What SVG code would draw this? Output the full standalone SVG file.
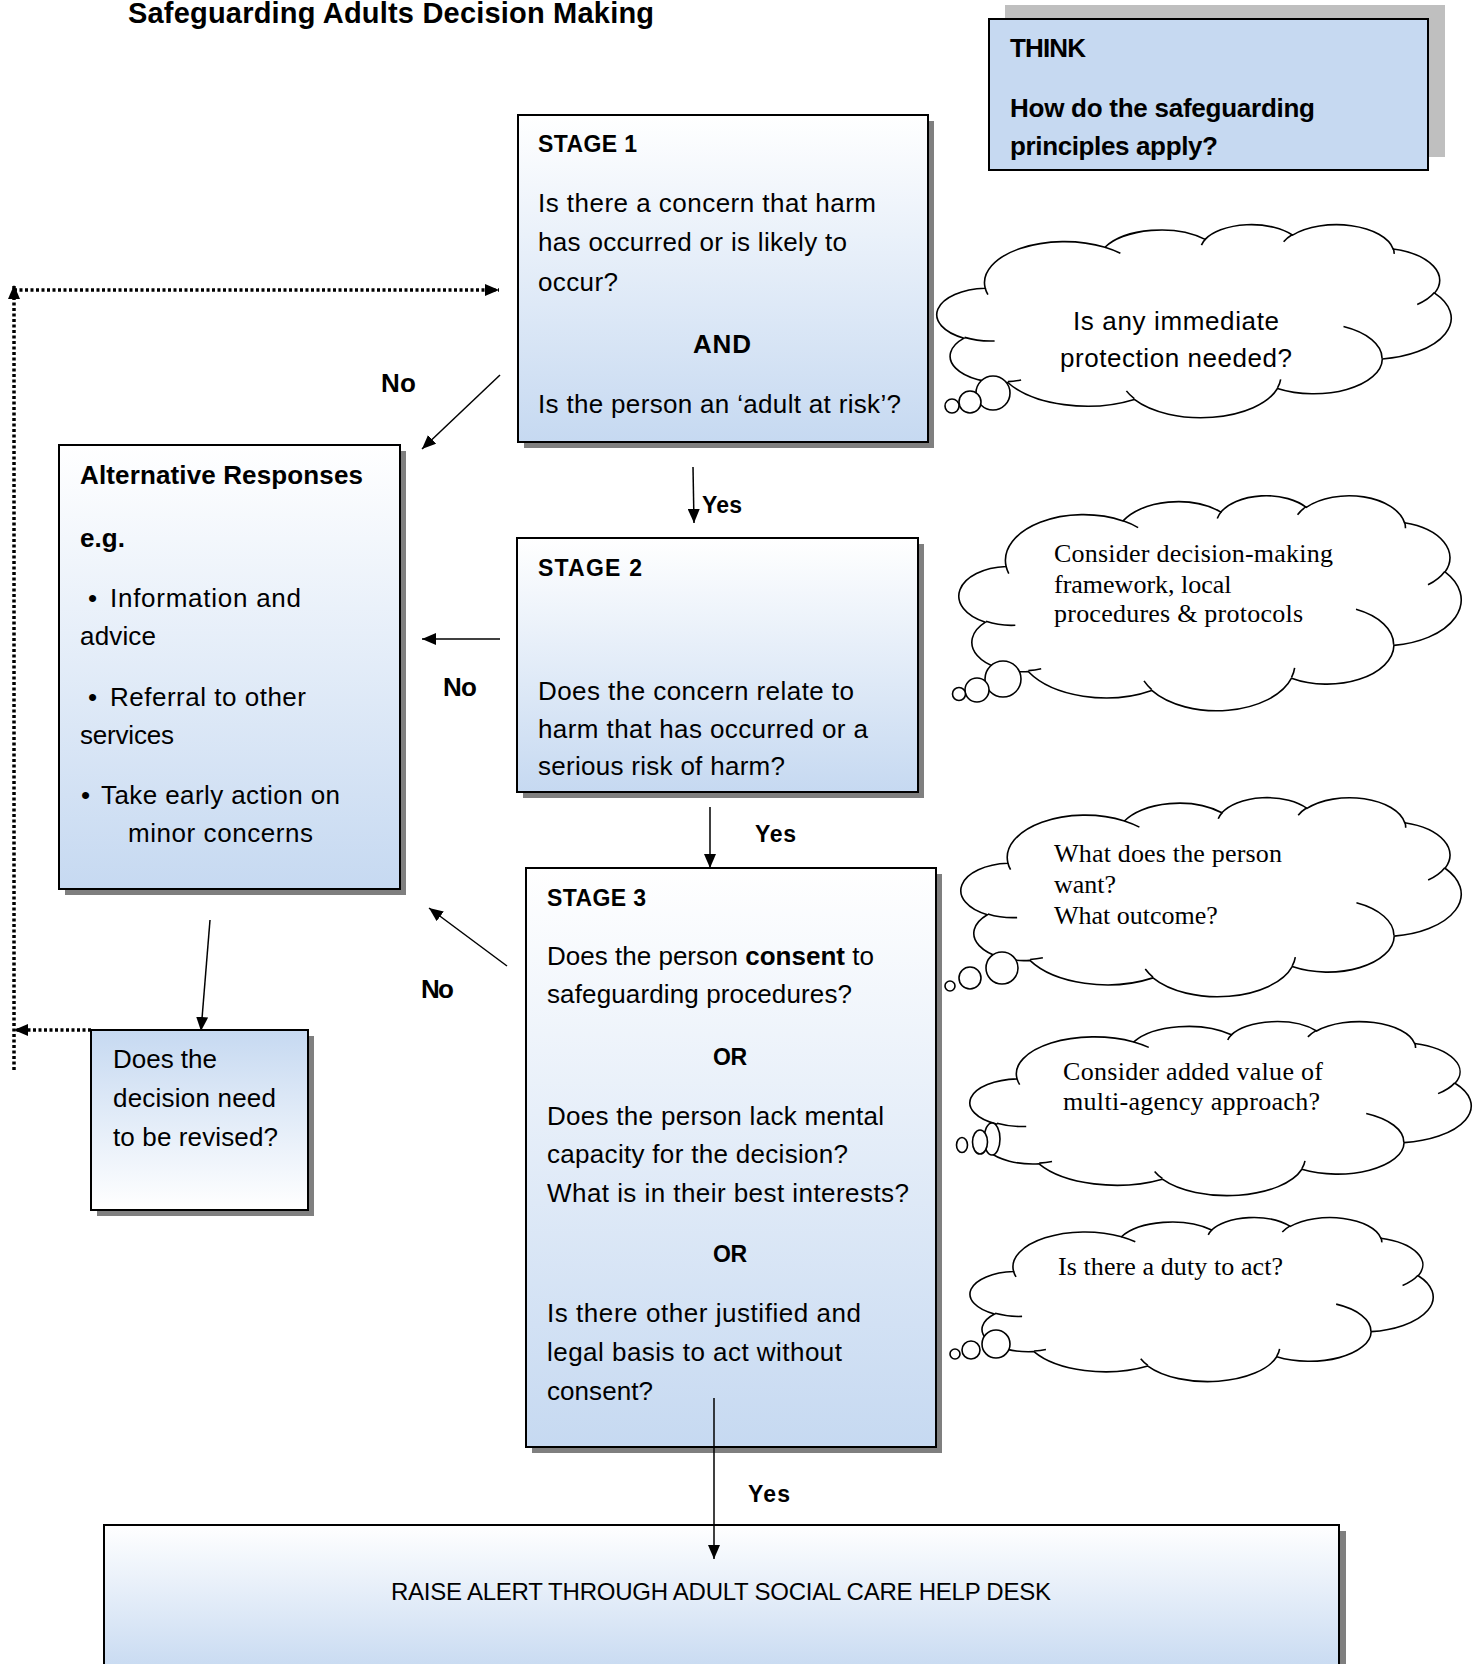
<svg xmlns="http://www.w3.org/2000/svg" xmlns:xlink="http://www.w3.org/1999/xlink" width="1480" height="1664" viewBox="0 0 1480 1664">
<defs>
<style>
.box{stroke:#000;stroke-width:2}
.shadow{fill:#7f7f7f}
.t{font-family:"Liberation Sans",Arial,sans-serif;font-size:26px;fill:#000}
.b{font-weight:bold}
.sm{font-size:23px}
.sf{font-family:"Liberation Serif","Times New Roman",serif;font-size:26px;fill:#000}
.conn{stroke:#000;stroke-width:1.5;fill:none}
.dot{stroke:#000;stroke-width:3.5;stroke-dasharray:3 2.5;fill:none}
.bubble{fill:#fff;stroke:#000;stroke-width:1.6}
</style>
<linearGradient id="gDown" x1="0" y1="0" x2="0" y2="1">
<stop offset="0" stop-color="#FFFFFF"/>
<stop offset="1" stop-color="#C6D9F1"/>
</linearGradient>
<linearGradient id="gUp" x1="0" y1="0" x2="0" y2="1">
<stop offset="0" stop-color="#C6D9F1"/>
<stop offset="1" stop-color="#FFFFFF"/>
</linearGradient>
<marker id="ah" markerUnits="userSpaceOnUse" markerWidth="15" markerHeight="12" refX="14" refY="6" orient="auto">
<path d="M0,0 L14,6 L0,12 z" fill="#000"/>
</marker>
<path id="cloudOuter" fill="#fff" stroke="#000" stroke-width="1.6" vector-effect="non-scaling-stroke" d="M3900 14370 A6753 9190 0 0 1 14004 5201 A5333 7267 0 0 1 22456 3434 A4365 5945 0 0 1 29834 2483 A4857 6595 0 0 1 38318 5580 A5333 7273 0 0 1 41818 15464 A6775 9220 0 0 1 37404 30206 A5785 7867 0 0 1 28556 36816 A6752 9215 0 0 1 16480 39266 A7720 10543 0 0 1 5804 35471 A4360 5918 0 0 1 2112 25551 A4345 5945 0 0 1 3900 14370 Z"/>
<path id="cloudInner" fill="none" stroke="#000" stroke-width="1.6" vector-effect="non-scaling-stroke" d="M4693 26177 A4345 5945 0 0 1 2159 25380 M6928 34899 A4360 5918 0 0 1 5819 35281 M16478 39090 A6752 9215 0 0 1 15811 37352 M28827 34751 A6752 9215 0 0 1 28561 36660 M34129 22954 A5785 7867 0 0 1 37381 30090 M41798 15354 A5333 7273 0 0 1 40349 18031 M38324 5426 A4857 6595 0 0 1 38400 6690 M29078 3952 A4857 6595 0 0 1 29821 2338 M22141 4720 A4365 5945 0 0 1 22500 3330 M14000 5192 A6753 9190 0 0 1 15303 6545 M4127 15789 A6753 9190 0 0 1 3900 14370"/>
</defs>

<rect x="0" y="0" width="1480" height="1664" fill="#fff"/>

<g id="title">
<text class="t b" x="128" y="23" style="font-size:29px" textLength="526">Safeguarding Adults Decision Making</text>
</g>

<g id="think">
<rect x="1005" y="5" width="440" height="152" fill="#BFBFBF"/>
<rect class="box" x="989" y="19" width="439" height="151" fill="#C6D9F1"/>
<text class="t b" x="1010" y="57" textLength="76">THINK</text>
<text class="t b" x="1010" y="117" textLength="305">How do the safeguarding</text>
<text class="t b" x="1010" y="155" textLength="208">principles apply?</text>
</g>

<g id="stage1">
<rect class="shadow" x="524" y="121" width="410" height="327"/>
<rect class="box" x="518" y="115" width="410" height="327" fill="url(#gDown)"/>
<text class="t b sm" x="538" y="152" textLength="99">STAGE 1</text>
<text class="t" x="538" y="212" textLength="338">Is there a concern that harm</text>
<text class="t" x="538" y="251" textLength="309">has occurred or is likely to</text>
<text class="t" x="538" y="291" textLength="80">occur?</text>
<text class="t b" x="693" y="353" textLength="58">AND</text>
<text class="t" x="538" y="413" textLength="363">Is the person an ‘adult at risk’?</text>
</g>

<g id="stage2">
<rect class="shadow" x="523" y="544" width="401" height="254"/>
<rect class="box" x="517" y="538" width="401" height="254" fill="url(#gDown)"/>
<text class="t b sm" x="538" y="576" textLength="104">STAGE 2</text>
<text class="t" x="538" y="700" textLength="316">Does the concern relate to</text>
<text class="t" x="538" y="738" textLength="330">harm that has occurred or a</text>
<text class="t" x="538" y="775" textLength="247">serious risk of harm?</text>
</g>

<g id="stage3">
<rect class="shadow" x="532" y="874" width="410" height="579"/>
<rect class="box" x="526" y="868" width="410" height="579" fill="url(#gDown)"/>
<text class="t b sm" x="547" y="906" textLength="99">STAGE 3</text>
<text class="t" x="547" y="965" textLength="327">Does the person <tspan class="b">consent</tspan> to</text>
<text class="t" x="547" y="1003" textLength="305">safeguarding procedures?</text>
<text class="t b sm" x="713" y="1065" textLength="34">OR</text>
<text class="t" x="547" y="1125" textLength="337">Does the person lack mental</text>
<text class="t" x="547" y="1163" textLength="301">capacity for the decision?</text>
<text class="t" x="547" y="1202" textLength="362">What is in their best interests?</text>
<text class="t b sm" x="713" y="1262" textLength="34">OR</text>
<text class="t" x="547" y="1322" textLength="314">Is there other justified and</text>
<text class="t" x="547" y="1361" textLength="295">legal basis to act without</text>
<text class="t" x="547" y="1400" textLength="106">consent?</text>
</g>

<g id="alternative">
<rect class="shadow" x="65" y="451" width="341" height="444"/>
<rect class="box" x="59" y="445" width="341" height="444" fill="url(#gDown)"/>
<text class="t b" x="80" y="484" textLength="283">Alternative Responses</text>
<text class="t b" x="80" y="547" textLength="45">e.g.</text>
<text class="t" x="88" y="607">•</text>
<text class="t" x="110" y="607" textLength="191">Information and</text>
<text class="t" x="80" y="645" textLength="76">advice</text>
<text class="t" x="88" y="706">•</text>
<text class="t" x="110" y="706" textLength="196">Referral to other</text>
<text class="t" x="80" y="744" textLength="94">services</text>
<text class="t" x="81" y="804">•</text>
<text class="t" x="101" y="804" textLength="239">Take early action on</text>
<text class="t" x="128" y="842" textLength="185">minor concerns</text>
</g>

<g id="decision">
<rect class="shadow" x="97" y="1036" width="217" height="180"/>
<rect class="box" x="91" y="1030" width="217" height="180" fill="url(#gUp)"/>
<text class="t" x="113" y="1068" textLength="104">Does the</text>
<text class="t" x="113" y="1107" textLength="163">decision need</text>
<text class="t" x="113" y="1146" textLength="165">to be revised?</text>
</g>

<g id="alert">
<rect class="shadow" x="110" y="1531" width="1236" height="150"/>
<rect class="box" x="104" y="1525" width="1235" height="150" fill="url(#gDown)"/>
<text class="t" x="391" y="1600" style="font-size:24px" textLength="660">RAISE ALERT THROUGH ADULT SOCIAL CARE HELP DESK</text>
</g>

<g id="cloud1">
<use xlink:href="#cloudOuter" transform="translate(939,224) scale(0.011852,0.0044676)"/>
<use xlink:href="#cloudInner" transform="translate(939,224) scale(0.011852,0.0044676)"/>
<circle class="bubble" cx="993" cy="393" r="17"/>
<circle class="bubble" cx="970" cy="402" r="11"/>
<circle class="bubble" cx="952" cy="406" r="7"/>
<text class="t" x="1176" y="330" text-anchor="middle" textLength="206">Is any immediate</text>
<text class="t" x="1176" y="367" text-anchor="middle" textLength="232">protection needed?</text>
</g>

<g id="cloud2">
<use xlink:href="#cloudOuter" transform="translate(961,495) scale(0.011574,0.0049769)"/>
<use xlink:href="#cloudInner" transform="translate(961,495) scale(0.011574,0.0049769)"/>
<circle class="bubble" cx="1003" cy="679" r="18"/>
<circle class="bubble" cx="977" cy="690" r="12"/>
<circle class="bubble" cx="959" cy="694" r="6.5"/>
<text class="sf" x="1054" y="562" textLength="279">Consider decision-making</text>
<text class="sf" x="1054" y="593">framework, local</text>
<text class="sf" x="1054" y="622" textLength="249">procedures &amp; protocols</text>
</g>

<g id="cloud3">
<use xlink:href="#cloudOuter" transform="translate(963,797) scale(0.011528,0.0046065)"/>
<use xlink:href="#cloudInner" transform="translate(963,797) scale(0.011528,0.0046065)"/>
<circle class="bubble" cx="1002" cy="968" r="16"/>
<circle class="bubble" cx="970" cy="978" r="11"/>
<circle class="bubble" cx="950" cy="986" r="5"/>
<text class="sf" x="1054" y="862" textLength="228">What does the person</text>
<text class="sf" x="1054" y="893">want?</text>
<text class="sf" x="1054" y="924">What outcome?</text>
</g>

<g id="cloud4">
<use xlink:href="#cloudOuter" transform="translate(972,1021) scale(0.011551,0.0040278)"/>
<use xlink:href="#cloudInner" transform="translate(972,1021) scale(0.011551,0.0040278)"/>
<ellipse class="bubble" cx="992" cy="1139" rx="8" ry="16"/>
<ellipse class="bubble" cx="980" cy="1142" rx="7.5" ry="12"/>
<ellipse class="bubble" cx="962" cy="1145" rx="5.5" ry="7.5"/>
<text class="sf" x="1063" y="1080" textLength="260">Consider added value of</text>
<text class="sf" x="1063" y="1110" textLength="257">multi-agency approach?</text>
</g>

<g id="cloud5">
<use xlink:href="#cloudOuter" transform="translate(972,1217) scale(0.010671,0.0037963)"/>
<use xlink:href="#cloudInner" transform="translate(972,1217) scale(0.010671,0.0037963)"/>
<circle class="bubble" cx="996" cy="1344" r="14"/>
<circle class="bubble" cx="971" cy="1350" r="9"/>
<circle class="bubble" cx="955" cy="1354" r="5"/>
<text class="sf" x="1058" y="1275" textLength="225">Is there a duty to act?</text>
</g>

<g id="connectors">
<line class="conn" x1="500" y1="375" x2="422" y2="449" marker-end="url(#ah)"/>
<line class="conn" x1="693" y1="467" x2="694" y2="523" marker-end="url(#ah)"/>
<line class="conn" x1="500" y1="639" x2="422" y2="639" marker-end="url(#ah)"/>
<line class="conn" x1="710" y1="807" x2="710" y2="868" marker-end="url(#ah)"/>
<line class="conn" x1="507" y1="966" x2="429" y2="908" marker-end="url(#ah)"/>
<line class="conn" x1="210" y1="920" x2="201" y2="1031" marker-end="url(#ah)"/>
<line class="conn" x1="714" y1="1398" x2="714" y2="1559" marker-end="url(#ah)"/>
<line class="dot" x1="14" y1="1070" x2="14" y2="285" marker-end="url(#ah)"/>
<line class="dot" x1="14" y1="290" x2="499" y2="290" marker-end="url(#ah)"/>
<line class="dot" x1="91" y1="1030" x2="14" y2="1030" marker-end="url(#ah)"/>
<text class="t b" x="381" y="392" textLength="35">No</text>
<text class="t b sm" x="702" y="513" textLength="40">Yes</text>
<text class="t b" x="443" y="696" textLength="34">No</text>
<text class="t b sm" x="755" y="842" textLength="41">Yes</text>
<text class="t b" x="421" y="998" textLength="33">No</text>
<text class="t b sm" x="748" y="1502" textLength="42">Yes</text>
</g>
</svg>
